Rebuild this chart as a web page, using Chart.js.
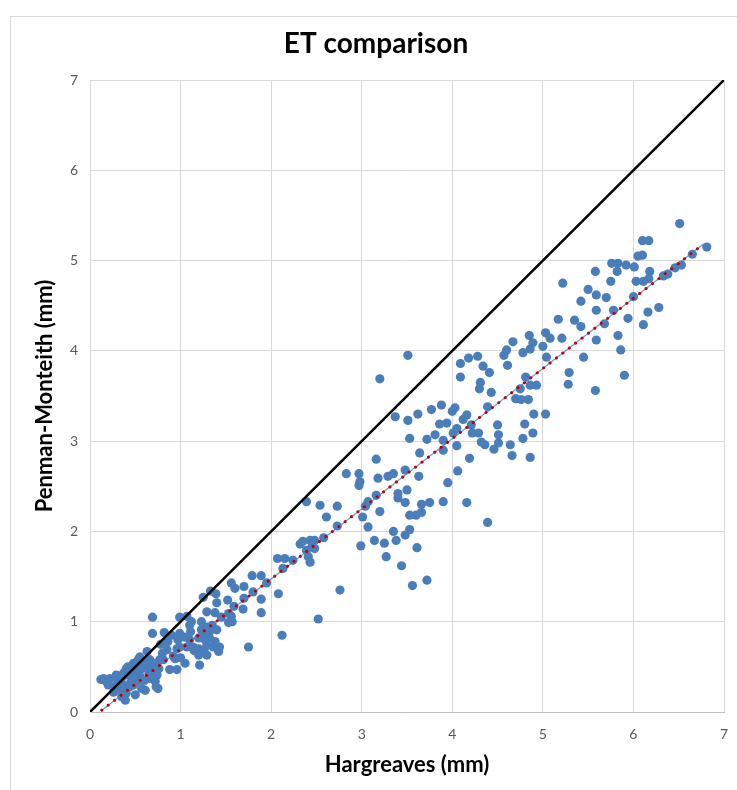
<!DOCTYPE html>
<html>
<head>
<meta charset="utf-8">
<script src="https://cdn.jsdelivr.net/npm/chart.js@4.4.0/dist/chart.umd.min.js"></script>
<style>
  html, body { margin: 0; padding: 0; background: #ffffff; }
  #wrap { width: 737px; height: 790px; position: relative; }
</style>
</head>
<body>
<div id="wrap"><canvas id="c" width="737" height="790"></canvas></div>
<script>
// ---- Data ----
const chartTitle = 'ET comparison';
const xTitle = 'Hargreaves (mm)';
const yTitle = 'Penman-Monteith (mm)';
const tickValues = [0, 1, 2, 3, 4, 5, 6, 7];

// Hargreaves ET (x) and Penman-Monteith ET (y), paired by index
const hargreaves = [
  0.69,0.69,0.99,1.25,1.33,1.39,1.40,1.56,1.60,1.70,1.79,1.89,1.95,1.89,1.89,1.70,1.69,1.52,1.59,1.56,
  1.53,1.38,1.29,1.23,1.23,1.32,1.29,1.26,1.20,1.21,1.43,1.42,1.75,1.11,1.10,1.04,0.99,0.97,0.99,0.96,
  1.07,1.05,0.96,0.88,0.94,0.86,0.85,0.81,0.77,0.76,0.74,0.75,0.73,0.66,0.63,0.55,0.48,0.40,0.37,0.29,
  0.22,0.15,0.18,0.26,0.31,0.26,0.35,0.39,0.50,0.44,0.57,0.61,0.53,0.66,0.68,0.57,0.50,0.46,0.40,0.37,
  0.31,0.53,0.50,0.61,0.70,0.64,0.72,0.37,0.40,1.07,1.10,1.20,1.27,1.36,1.38,1.29,1.32,1.40,1.29,1.20,
  1.14,1.53,1.57,0.12,0.20,0.30,0.45,0.55,0.60,0.35,0.42,0.58,0.80,0.90,0.92,1.00,1.15,1.25,0.33,0.48,
  0.65,0.78,0.82,1.12,1.35,1.45,
  3.37,3.51,3.62,3.77,3.88,3.53,3.72,3.81,3.86,3.94,3.90,3.64,3.16,2.83,2.97,2.98,2.97,3.18,3.29,3.35,
  3.48,3.63,3.50,3.40,3.40,3.48,3.66,3.75,3.90,3.95,3.53,3.60,3.66,3.35,3.38,3.48,3.53,3.61,3.44,3.56,
  3.72,3.27,3.25,3.14,2.99,3.20,3.16,3.07,3.01,3.07,3.04,2.39,2.54,2.73,2.61,2.73,2.58,2.48,2.43,2.35,
  2.32,2.45,2.48,2.39,2.41,2.43,2.24,2.15,2.07,2.13,2.08,1.80,2.76,2.52,2.12,3.20,
  3.51,4.09,4.09,4.18,4.28,4.34,4.41,4.31,4.30,4.43,4.60,4.67,4.57,4.61,4.78,4.85,4.89,4.86,5.00,5.03,
  5.08,5.21,5.17,5.35,5.04,5.29,5.28,4.81,4.75,4.86,4.93,4.70,4.76,4.84,4.90,5.03,4.80,4.89,4.78,4.86,
  4.66,4.64,4.51,4.50,4.51,4.46,4.39,4.32,4.36,4.29,4.22,4.21,4.16,4.12,4.03,4.00,4.05,4.05,4.01,3.90,
  4.19,4.06,4.16,4.39,
  6.51,6.10,6.17,6.05,6.10,6.81,6.65,6.53,6.46,6.38,6.33,6.18,6.17,6.11,6.03,6.01,5.92,5.83,5.76,5.82,
  5.58,5.75,5.22,5.50,5.59,5.70,5.42,5.59,5.78,6.00,6.16,6.28,6.11,5.94,5.68,5.42,5.83,5.86,5.59,5.45,
  5.58,5.90
];
const penmanMonteith = [
  1.05,0.87,1.05,1.27,1.34,1.31,1.21,1.43,1.37,1.39,1.51,1.51,1.43,1.25,1.10,1.26,1.14,1.24,1.17,1.06,
  0.99,1.10,1.11,1.00,0.91,0.82,0.74,0.69,0.63,0.52,0.72,0.67,0.72,0.89,0.80,0.83,0.87,0.80,0.72,0.70,
  0.72,0.54,0.47,0.47,0.59,0.78,0.69,0.58,0.58,0.48,0.41,0.26,0.28,0.58,0.67,0.61,0.54,0.48,0.43,0.41,
  0.37,0.37,0.34,0.28,0.26,0.22,0.17,0.13,0.19,0.28,0.26,0.24,0.35,0.37,0.45,0.48,0.45,0.39,0.41,0.30,
  0.34,0.58,0.50,0.52,0.54,0.48,0.34,0.22,0.21,1.06,0.96,0.82,0.80,0.72,0.78,0.94,0.89,0.91,0.63,0.70,
  0.72,1.09,1.00,0.36,0.30,0.30,0.33,0.40,0.35,0.38,0.50,0.55,0.65,0.85,0.62,0.60,0.68,0.85,0.24,0.30,
  0.42,0.75,0.88,1.00,0.96,1.05,
  3.27,3.23,3.30,3.35,3.40,3.03,3.02,3.07,3.19,3.20,3.01,2.87,2.80,2.64,2.64,2.55,2.51,2.59,2.61,2.64,
  2.68,2.61,2.46,2.42,2.37,2.32,2.30,2.32,2.33,2.54,2.18,2.18,2.21,2.00,1.90,1.96,2.02,1.82,1.62,1.40,
  1.46,1.72,1.87,1.90,1.84,2.22,2.40,2.33,2.16,2.05,2.28,2.33,2.29,2.28,2.16,2.06,1.93,1.90,1.90,1.89,
  1.86,1.83,1.81,1.79,1.72,1.66,1.68,1.70,1.70,1.59,1.31,1.33,1.35,1.03,0.85,3.69,
  3.95,3.86,3.71,3.92,3.94,3.83,3.76,3.65,3.58,3.54,4.01,4.10,3.95,3.84,3.98,4.17,4.09,4.02,4.05,4.20,
  4.14,4.14,4.35,4.34,3.93,3.76,3.63,3.71,3.58,3.62,3.62,3.47,3.46,3.46,3.30,3.30,3.19,3.09,3.03,2.82,
  2.84,2.96,3.07,3.18,2.98,2.91,3.38,2.99,2.96,3.09,3.09,3.18,3.29,3.24,3.37,3.33,3.14,2.95,3.09,2.90,
  2.81,2.67,2.32,2.10,
  5.41,5.22,5.22,5.05,5.06,5.15,5.07,4.95,4.92,4.85,4.83,4.88,4.80,4.77,4.77,4.93,4.95,4.97,4.97,4.88,
  4.88,4.77,4.75,4.68,4.62,4.59,4.55,4.45,4.45,4.60,4.43,4.48,4.29,4.36,4.30,4.27,4.17,4.01,4.12,3.93,
  3.56,3.73
];

// 1:1 reference line and linear trendline end points
const oneToOneX = [0, 7];
const oneToOneY = [0, 7];
const trendX = [0.13, 6.77];
const trendY = [0.02, 5.18];

// ---- Build datasets ----
const scatterPts = hargreaves.map((x, i) => ({ x: x, y: penmanMonteith[i] }));
const linePts = oneToOneX.map((x, i) => ({ x: x, y: oneToOneY[i] }));
const trendPts = trendX.map((x, i) => ({ x: x, y: trendY[i] }));

const framePlugin = {
  id: 'frame',
  beforeDraw(chart) {
    const ctx = chart.ctx;
    ctx.save();
    ctx.fillStyle = '#ffffff';
    ctx.fillRect(0, 0, chart.width, chart.height);
    ctx.strokeStyle = '#d9d9d9';
    ctx.lineWidth = 1;
    ctx.strokeRect(10.5, 16.5, 800, 800);
    ctx.restore();
  }
};

const tickFont = { family: 'Lato', size: 14 };
const axisTitleFont = { family: 'Lato', size: 22, weight: 'bold', lineHeight: 1.2 };

new Chart(document.getElementById('c'), {
  type: 'scatter',
  data: {
    datasets: [
      {
        label: 'Trend',
        data: trendPts,
        showLine: true,
        borderColor: '#c00000',
        borderWidth: 3,
        borderDash: [0.1, 8],
        borderCapStyle: 'round',
        pointRadius: 0,
        order: 0
      },
      {
        label: 'Trend base',
        data: trendPts,
        showLine: true,
        borderColor: 'rgba(79,129,189,0.8)',
        borderWidth: 1.2,
        pointRadius: 0,
        order: 1
      },
      {
        label: '1:1',
        data: linePts,
        showLine: true,
        borderColor: '#000000',
        borderWidth: 2.5,
        pointRadius: 0,
        order: 2
      },
      {
        label: 'ET',
        data: scatterPts,
        backgroundColor: '#4a7ebb',
        borderWidth: 0,
        pointRadius: 4.6,
        pointHoverRadius: 4.6,
        order: 3
      }
    ]
  },
  options: {
    responsive: false,
    animation: false,
    devicePixelRatio: 1,
    layout: { padding: { left: 28, right: 13, top: 0, bottom: 0 } },
    plugins: {
      legend: { display: false },
      tooltip: { enabled: false },
      title: {
        display: true,
        text: chartTitle,
        color: '#000000',
        font: { family: 'Lato', size: 28, weight: 'bold', lineHeight: 1.2 },
        padding: { top: 27.2, bottom: 19.2 }
      }
    },
    scales: {
      x: {
        type: 'linear',
        min: 0, max: 7,
        afterBuildTicks: (s) => { s.ticks = tickValues.map(v => ({ value: v })); },
        afterFit: (s) => { s.height = 78; s.paddingLeft = 0; s.paddingRight = 0; },
        ticks: { color: '#595959', font: tickFont, padding: 14, maxRotation: 0 },
        grid: { color: '#d9d9d9', lineWidth: 1, drawTicks: false },
        border: { color: '#bfbfbf', width: 1 },
        title: { display: true, text: xTitle, color: '#000000', font: axisTitleFont, padding: { top: 0, bottom: 12 } }
      },
      y: {
        type: 'linear',
        min: 0, max: 7,
        afterBuildTicks: (s) => { s.ticks = tickValues.map(v => ({ value: v })); },
        afterFit: (s) => { s.width = 62; s.paddingTop = 0; s.paddingBottom = 0; },
        ticks: { color: '#595959', font: tickFont, padding: 12 },
        grid: { color: '#d9d9d9', lineWidth: 1, drawTicks: false },
        border: { color: '#d9d9d9', width: 1 },
        title: { display: true, text: yTitle, color: '#000000', font: axisTitleFont, padding: { top: 3.8, bottom: 0 } }
      }
    }
  },
  plugins: [framePlugin]
});
</script>
</body>
</html>
